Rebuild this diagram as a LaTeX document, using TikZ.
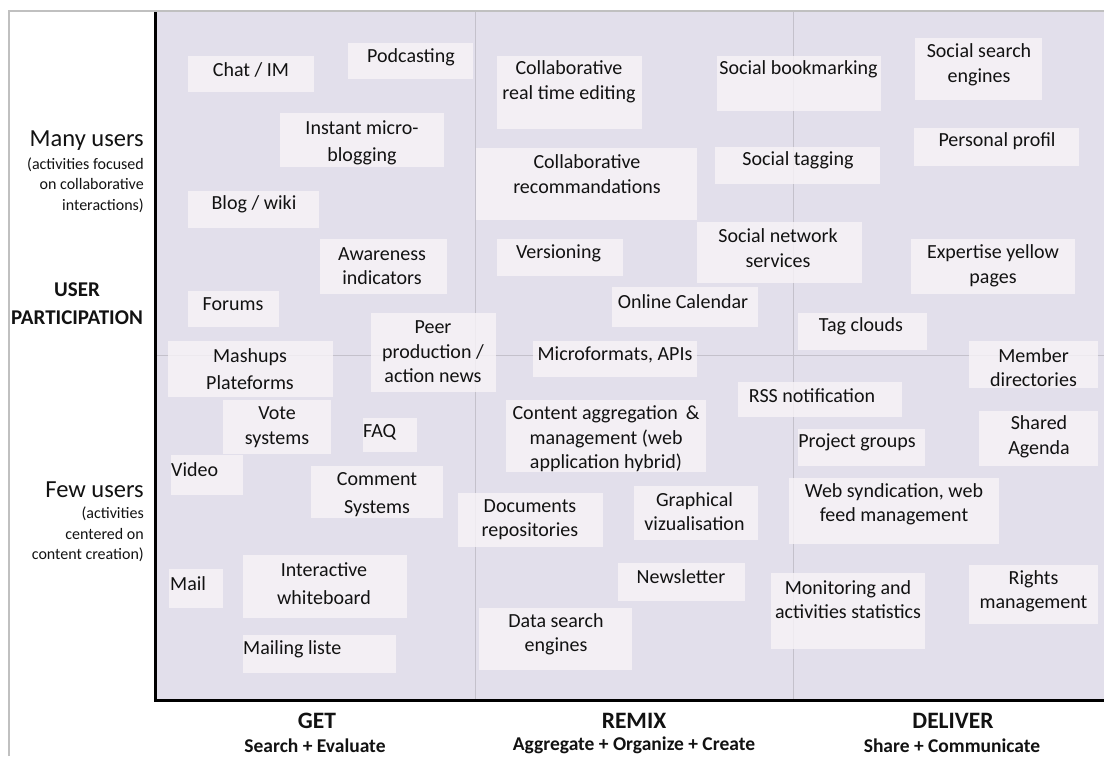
\documentclass[tikz,border=0pt]{standalone}
\usepackage{fontspec}
\setmainfont{Carlito}
\definecolor{plotbg}{RGB}{226,223,235}
\definecolor{toolfill}{RGB}{248,244,247}
\definecolor{gridline}{RGB}{196,193,203}
\definecolor{frameline}{RGB}{192,192,192}
\definecolor{ink}{RGB}{18,18,18}
\tikzstyle{every node}=[inner sep=0pt,align=center,text=ink,yshift=-1.5pt,font=\fontsize{20}{24.5}\selectfont]
\tikzstyle{tool}=[fill=toolfill,fill opacity=0.8]
\tikzstyle{axisname}=[font=\fontsize{23.5}{28}\selectfont\bfseries]
\tikzstyle{axissub}=[font=\fontsize{19.5}{22}\selectfont\bfseries]
\tikzstyle{users}=[anchor=east,align=right,font=\fontsize{24.5}{28}\selectfont]
\tikzstyle{usernote}=[anchor=east,align=right,font=\fontsize{16}{20.3}\selectfont]

\begin{document}
\begin{tikzpicture}[x=1pt,y=-1pt]
  \useasboundingbox (0,0) rectangle (1104,756);
  \fill[white] (0,0) rectangle (1104,756);
  \draw[frameline,line width=1.5pt] (9,756) -- (9,11) -- (1104,11);
  % plot area and quadrant lines
  \fill[plotbg] (155,12) rectangle (1104,700);
  \draw[gridline] (475,12) -- (475,700);
  \draw[gridline] (793,12) -- (793,700);
  \draw[gridline] (155,355) -- (1104,355);

  % GET
  \fill[tool] (188,56) rectangle (314,92);      \node (chat) at (251,68) {Chat / IM};
  \fill[tool] (348,43) rectangle (473,79);      \node (podcast) at (411,56) {Podcasting};
  \fill[tool] (280,113) rectangle (444,167);    \node (microblog) at (362,141) {Instant micro-\\[2.5pt]blogging};
  \fill[tool] (188,191) rectangle (319,228);    \node (blog) at (254,203) {Blog / wiki};
  \fill[tool] (320,239) rectangle (447,294);    \node (aware) at (382,264.5) {Awareness\\indicators};
  \fill[tool] (188,291) rectangle (279,327);    \node (forums) at (233,303) {Forums};
  \fill[tool] (371,313) rectangle (496,392);    \node (peer) at (433,350.5) {Peer\\production /\\action news};
  \fill[tool] (168,341) rectangle (333,397);    \node (mashups) at (250,367.5) {Mashups\\[2.5pt]Plateforms};
  \fill[tool] (223,400) rectangle (331,454);    \node (vote) at (277,425.5) {Vote\\systems};
  \fill[tool] (363,418) rectangle (417,452);    \node[anchor=west] (faq) at (363,431) {FAQ};
  \fill[tool] (171,455) rectangle (243,495);    \node[anchor=west] (video) at (171,468) {Video};
  \fill[tool] (311,466) rectangle (443,518);    \node (comment) at (377,493) {Comment\\[3.5pt]Systems};
  \fill[tool] (169,569) rectangle (223,608);    \node[anchor=west] (mail) at (170,582) {Mail};
  \fill[tool] (243,555) rectangle (407,618);    \node (whiteboard) at (324,582) {Interactive\\[3.5pt]whiteboard};
  \fill[tool] (243,635) rectangle (396,673);    \node[anchor=west] (mailing) at (243,648) {Mailing liste};

  % REMIX
  \fill[tool] (497,56) rectangle (642,129);     \node (coedit) at (569,80.5) {Collaborative\\real time editing};
  \fill[tool] (476,148) rectangle (697,220);    \node (corecom) at (587,172.5) {Collaborative\\recommandations};
  \fill[tool] (497,239) rectangle (623,276);    \node (versioning) at (558.5,252) {Versioning};
  \fill[tool] (612,287) rectangle (758,327);    \node (calendar) at (683,300) {Online Calendar};
  \fill[tool] (533,341) rectangle (697,377);    \node (apis) at (615,353) {Microformats, APIs};
  \fill[tool] (506,400) rectangle (706,472);    \node (aggreg) at (606,437.5) {Content aggregation \,\&\\management (web\\application hybrid)};
  \fill[tool] (458,493) rectangle (603,547);    \node (docs) at (530,518) {Documents\\repositories};
  \fill[tool] (634,486) rectangle (758,540);    \node (graphviz) at (694.5,510) {Graphical\\vizualisation};
  \fill[tool] (618,563) rectangle (745,601);    \node (newsletter) at (681,575) {Newsletter};
  \fill[tool] (479,608) rectangle (632,670);    \node (datasearch) at (556,633) {Data search\\engines};

  % DELIVER
  \fill[tool] (717,56) rectangle (881,111);     \node (bookmark) at (798.5,68) {Social bookmarking};
  \fill[tool] (915,38) rectangle (1042,100);    \node (socsearch) at (979,63.5) {Social search\\engines};
  \fill[tool] (914,128) rectangle (1079,166);   \node (profil) at (997,140) {Personal profil};
  \fill[tool] (715,147) rectangle (880,184);    \node (tagging) at (798,159) {Social tagging};
  \fill[tool] (697,222) rectangle (862,283);    \node (network) at (778,246.5) {Social network\\services};
  \fill[tool] (911,239) rectangle (1075,294);   \node (expertise) at (993,264.5) {Expertise yellow\\pages};
  \fill[tool] (798,313) rectangle (927,350);    \node (tagclouds) at (861,325) {Tag clouds};
  \fill[tool] (969,341) rectangle (1098,388);   \node (members) at (1033.5,366) {Member\\directories};
  \fill[tool] (738,382) rectangle (902,417);    \node (rss) at (812,394) {RSS notification};
  \fill[tool] (798,429) rectangle (925,466);    \node (groups) at (857,441) {Project groups};
  \fill[tool] (979,411) rectangle (1098,466);   \node (agenda) at (1039,435.5) {Shared\\Agenda};
  \fill[tool] (789,478) rectangle (999,544);    \node (syndic) at (894,503) {Web syndication, web\\feed management};
  \fill[tool] (771,573) rectangle (925,649);    \node (monitor) at (848,598) {Monitoring and\\activities statistics};
  \fill[tool] (969,565) rectangle (1098,624);   \node (rights) at (1033.5,590) {Rights\\management};

  % axes
  \draw[black,line width=3pt] (155.5,12) -- (155.5,700) -- (1104,700);

  % user participation axis
  \node[users] (many) at (144,139) {Many users};
  \node[usernote] (manynote) at (144,183.5) {(activities focused\\on collaborative\\interactions)};
  \node[axissub,font=\fontsize{21}{28}\selectfont\bfseries] (participation) at (77,302) {USER\\PARTICIPATION};
  \node[users] (few) at (144,488) {Few users};
  \node[usernote] (fewnote) at (144,533) {(activities\\centered on\\content creation)};

  % activity axis
  \node[axisname] (get) at (317,719) {GET};
  \node[axissub] (getsub) at (315,744) {Search + Evaluate};
  \node[axisname] (remix) at (634,719) {REMIX};
  \node[axissub] (remixsub) at (634,744) {Aggregate + Organize + Create};
  \node[axisname] (deliver) at (953,719) {DELIVER};
  \node[axissub] (deliversub) at (952,744) {Share + Communicate};
\end{tikzpicture}
\end{document}
